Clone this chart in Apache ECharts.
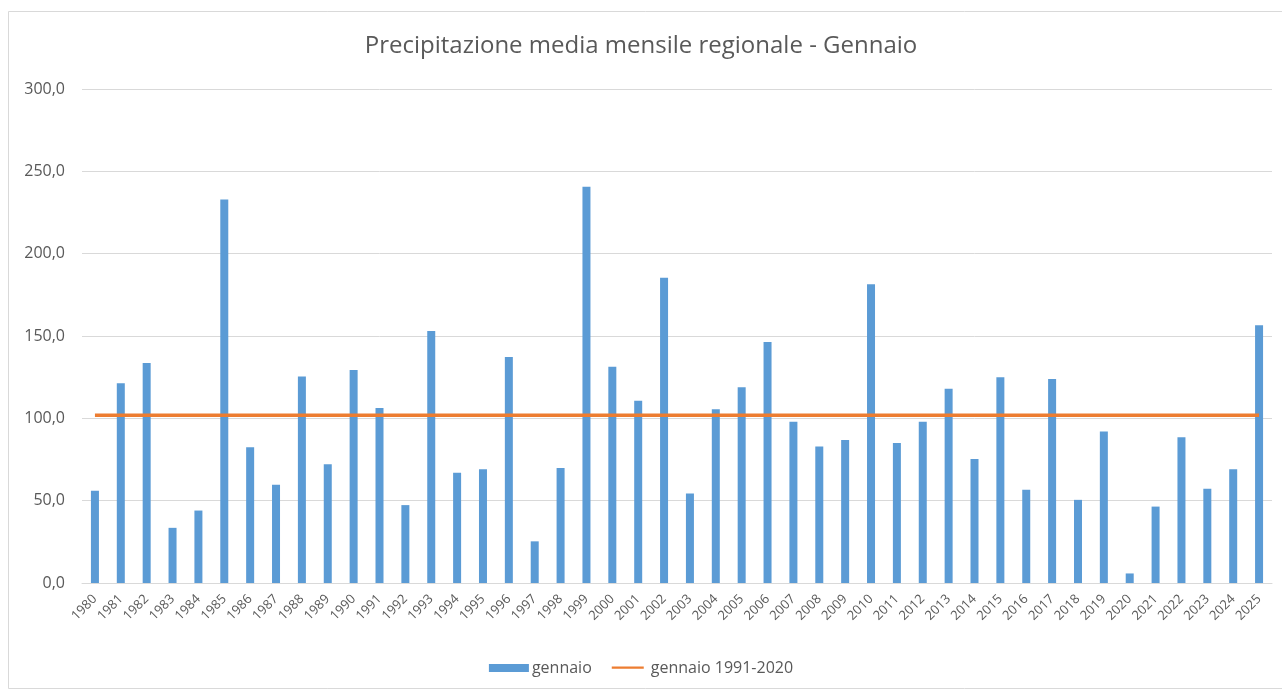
<!DOCTYPE html>
<html>
<head>
<meta charset="utf-8">
<script src="https://cdn.jsdelivr.net/npm/echarts@6/dist/echarts.min.js"></script>
<style>
html,body{margin:0;padding:0;background:#fff;}
#chart{width:1282px;height:691px;}
</style>
</head>
<body>
<div id="chart"></div>
<script>
var years = ['1980','1981','1982','1983','1984','1985','1986','1987','1988','1989',
'1990','1991','1992','1993','1994','1995','1996','1997','1998','1999',
'2000','2001','2002','2003','2004','2005','2006','2007','2008','2009',
'2010','2011','2012','2013','2014','2015','2016','2017','2018','2019',
'2020','2021','2022','2023','2024','2025'];
var gennaio = [56.0,121.3,133.6,33.5,44.0,232.9,82.5,59.6,125.4,72.1,
129.3,106.2,47.3,153.0,66.9,69.1,137.3,25.3,69.9,240.7,
131.4,110.7,185.4,54.4,105.5,118.9,146.3,98.0,82.9,86.8,
181.5,85.0,98.0,118.0,75.3,125.0,56.6,123.9,50.5,92.0,
5.8,46.4,88.5,57.2,69.1,156.5];
var mediaValue = 101.9;
var media = years.map(function(){ return mediaValue; });

var FONT = 'Open Sans';
var chart = echarts.init(document.getElementById('chart'));
chart.setOption({
  backgroundColor:'#ffffff',
  animation:false,
  title:{
    text:'Precipitazione media mensile regionale - Gennaio',
    left:'center', top:29,
    textStyle:{fontFamily:FONT, fontSize:24, fontWeight:'normal', color:'#595959'}
  },
  graphic:[{
    type:'rect', shape:{x:8.5,y:11.5,width:1290,height:677},
    style:{fill:'none', stroke:'#d9d9d9', lineWidth:1}, silent:true, z:-1
  }],
  legend:{
    bottom:10, left:'center', itemGap:20, itemWidth:40, itemHeight:8,
    textStyle:{fontFamily:FONT, fontSize:16, color:'#595959', padding:[0,0,0,-2]},
    data:[
      {name:'gennaio', icon:'rect', itemStyle:{color:'#5B9BD5'}},
      {name:'gennaio 1991-2020',
       icon:'path://M0,0L0.01,0L0,0.01Z M0,3L40,3L40,6L0,6Z M40,9.99L40,10L39.99,10Z',
       itemStyle:{color:'#ED7D31'}}
    ]
  },
  grid:{left:82, right:10, top:89, bottom:108, containLabel:false},
  xAxis:{
    type:'category', data:years, boundaryGap:true,
    axisLine:{lineStyle:{color:'#d9d9d9'}},
    axisTick:{show:false},
    axisLabel:{rotate:45, interval:0, color:'#595959', fontFamily:FONT, fontSize:13, margin:14}
  },
  yAxis:{
    type:'value', min:0, max:300, interval:50,
    axisLine:{show:false}, axisTick:{show:false},
    splitLine:{lineStyle:{color:'#d9d9d9'}},
    axisLabel:{color:'#595959', fontFamily:FONT, fontSize:16, margin:17,
      formatter:function(v){ return v.toFixed(1).replace('.',','); }}
  },
  series:[
    {name:'gennaio', type:'bar', data:gennaio, barWidth:8, itemStyle:{color:'#5B9BD5'}},
    {name:'gennaio 1991-2020', type:'line', data:media, symbol:'none',
     lineStyle:{color:'#ED7D31', width:3.5}, itemStyle:{color:'#ED7D31'}}
  ]
});
</script>
</body>
</html>
